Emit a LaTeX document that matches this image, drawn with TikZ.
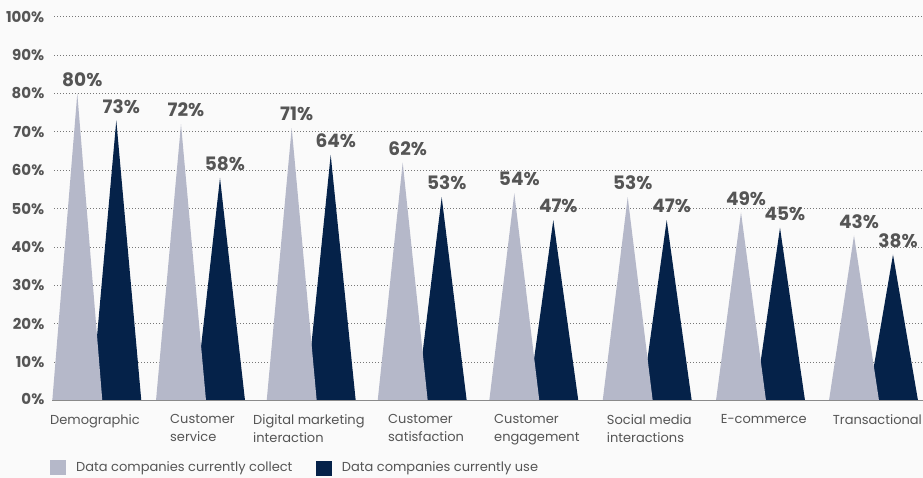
\documentclass[tikz,border=0pt]{standalone}
\usepackage{fontspec}
\setmainfont{Poppins}
\definecolor{bg}{HTML}{FAFAFA}
\definecolor{collectc}{HTML}{B5B8C9}
\definecolor{usec}{HTML}{052249}
\definecolor{txt}{HTML}{555555}
\definecolor{gridc}{HTML}{777777}
\definecolor{axisc}{HTML}{8A8A8A}
\begin{document}
\begin{tikzpicture}[x=1pt,y=-1pt,
  tick/.style={anchor=east,font=\fontsize{15}{15}\selectfont\bfseries,text=txt,inner sep=0pt},
  val/.style={anchor=center,font=\fontsize{18.5}{18.5}\selectfont\bfseries,text=txt,inner sep=0pt},
  cat/.style={anchor=north west,align=left,font=\fontsize{13}{18}\selectfont,text=txt,inner sep=0pt},
  leg/.style={anchor=west,font=\fontsize{13}{13}\selectfont,text=txt,inner sep=0pt},
  gridline/.style={gridc,line width=0.8pt,dash pattern=on 0.8pt off 2.2pt}]
\fill[bg] (0,0) rectangle (923,478);
\useasboundingbox (0,0) rectangle (923,478);
% gridlines and tick labels
\foreach \v/\lab in {10/10\%,20/20\%,30/30\%,40/40\%,50/50\%,60/60\%,70/70\%,80/80\%,90/90\%,100/100\%}{
  \pgfmathsetmacro{\yy}{400.5-3.838*\v}
  \coordinate (gl\v) at (54,\yy);
  \coordinate (gr\v) at (922,\yy);
  \draw[gridline] (gl\v) -- (gr\v);
  \node[tick] (t\v) at (44.5,\yy) {\lab};
}
\node[tick] (t0) at (44.5,398.5) {0\%};
% triangles
\foreach \L/\c/\u [count=\i] in {52.3/80/73,156/72/58,266.7/71/64,377.7/62/53,489.3/54/47,602.7/53/47,716/49/45,829/43/38}{
  \pgfmathsetmacro{\yc}{400.5-3.838*\c}
  \pgfmathsetmacro{\yu}{400.5-3.838*\u}
  \coordinate (ua\i) at (\L+64,\yu);
  \coordinate (ul\i) at (\L+39,400.5);
  \coordinate (ur\i) at (\L+89,400.5);
  \coordinate (ca\i) at (\L+25,\yc);
  \coordinate (cl\i) at (\L,400.5);
  \coordinate (cr\i) at (\L+50,400.5);
  \fill[usec] (ul\i) -- (ua\i) -- (ur\i) -- cycle;
  \fill[collectc] (cl\i) -- (ca\i) -- (cr\i) -- cycle;
  \node[val] (vc\i) at (\L+30,\yc-14) {\c\%};
  \node[val] (vu\i) at (\L+69,\yu-14) {\u\%};
}
% axis
\coordinate (ax0) at (52,400.5);
\coordinate (ax1) at (923,400.5);
\draw[axisc,line width=1.6pt] (ax0) -- (ax1);
% categories
\node[cat] (k1) at (50,414.5) {Demographic};
\node[cat] (k2) at (170,414.5) {Customer\\service};
\node[cat] (k3) at (253,414.5) {Digital marketing\\interaction};
\node[cat] (k4) at (388,414.5) {Customer\\satisfaction};
\node[cat] (k5) at (494,414.5) {Customer\\engagement};
\node[cat] (k6) at (606.7,414.5) {Social media\\interactions};
\node[cat] (k7) at (720.7,414.5) {E-commerce};
\node[cat] (k8) at (832.7,414.5) {Transactional};
% legend
\fill[collectc] (50,460) rectangle (66,475);
\node[leg] (l1) at (76,468) {Data companies currently collect};
\fill[usec] (316,461) rectangle (332,476);
\node[leg] (l2) at (341.7,468) {Data companies currently use};
\end{tikzpicture}
\end{document}
